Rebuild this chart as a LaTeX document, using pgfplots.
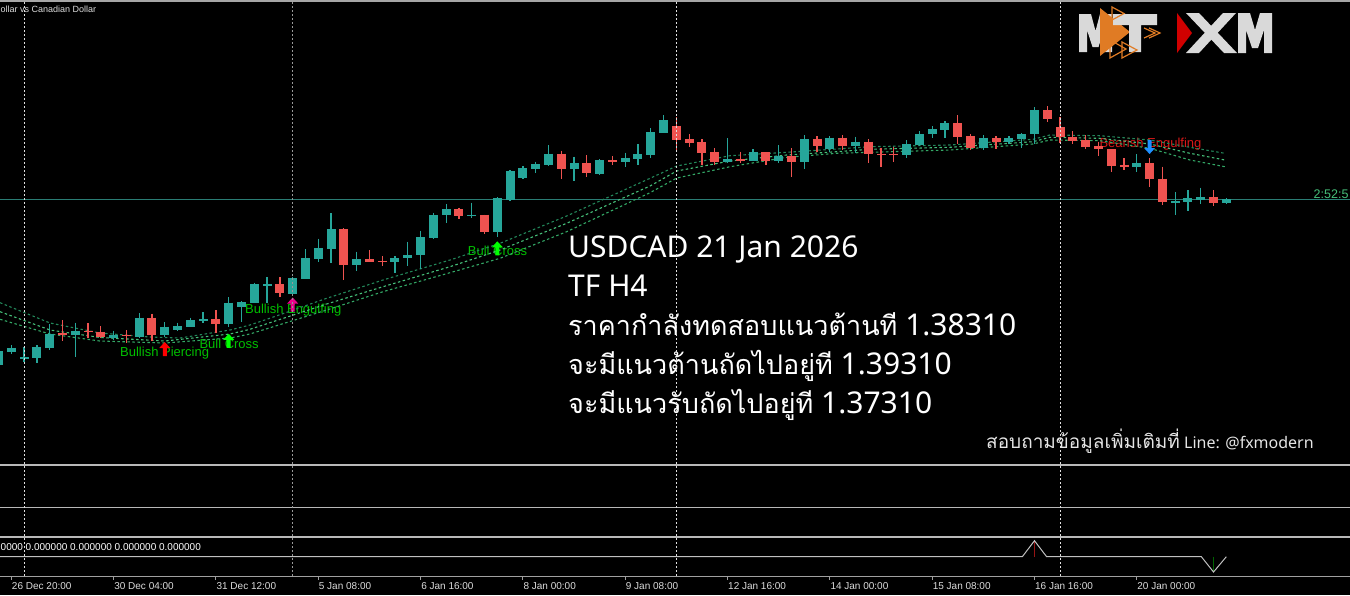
\documentclass[border=0pt]{standalone}
\usepackage{fontspec}
\setmainfont{Liberation Sans}
\newfontfamily\notofont{Noto Sans}
\newfontfamily\thaifont[Script=Thai]{Loma}
\usepackage{pgfplots}
\usepackage{pgfplotstable}
\pgfplotsset{compat=1.18}

\definecolor{bullc}{HTML}{26A69A}
\definecolor{bearc}{HTML}{EF5350}
\definecolor{maA}{HTML}{23875A}
\definecolor{maB}{HTML}{46C07A}
\definecolor{maC}{HTML}{33A866}
\definecolor{sigg}{HTML}{00C000}
\definecolor{sigr}{HTML}{D81818}
\definecolor{logog}{HTML}{D9D9D9}
\definecolor{logoo}{HTML}{E07B24}
\definecolor{logor}{HTML}{D00000}
\definecolor{pline}{HTML}{2A7D74}
\definecolor{tlab}{HTML}{DCDCDC}
\definecolor{sepc}{HTML}{B8B8B8}
\definecolor{indc}{HTML}{C0C0C0}

\pgfdeclareplotmark{uarr}{%
  \pgfpathmoveto{\pgfpoint{0pt}{7pt}}%
  \pgfpathlineto{\pgfpoint{5.5pt}{1pt}}%
  \pgfpathlineto{\pgfpoint{2pt}{1pt}}%
  \pgfpathlineto{\pgfpoint{2pt}{-7pt}}%
  \pgfpathlineto{\pgfpoint{-2pt}{-7pt}}%
  \pgfpathlineto{\pgfpoint{-2pt}{1pt}}%
  \pgfpathlineto{\pgfpoint{-5.5pt}{1pt}}%
  \pgfpathclose\pgfusepathqfill}
\pgfdeclareplotmark{darr}{%
  \pgfpathmoveto{\pgfpoint{0pt}{-7pt}}%
  \pgfpathlineto{\pgfpoint{5.5pt}{-1pt}}%
  \pgfpathlineto{\pgfpoint{2pt}{-1pt}}%
  \pgfpathlineto{\pgfpoint{2pt}{7pt}}%
  \pgfpathlineto{\pgfpoint{-2pt}{7pt}}%
  \pgfpathlineto{\pgfpoint{-2pt}{-1pt}}%
  \pgfpathlineto{\pgfpoint{-5.5pt}{-1pt}}%
  \pgfpathclose\pgfusepathqfill}

% candle data: index, body top, body bottom, wick top, wick bottom (screen price scale)
\pgfplotstableread{
i bt bb wt wb
-1 351 365 348 368
0 347.7 352.3 345 354
1 357.2 358.6 347 362
2 346.7 357.7 345 362.7
3 334 347.7 324 350
5 330.7 335 322.7 356.7
8 335 338.3 330.7 340
10 317.7 336.7 313.3 338.3
12 326.7 335.3 322.3 336.7
13 326 330 322.7 330.7
14 320 326.7 317.7 326.7
15 319.3 320.7 312 323.3
17 302.7 324 297.3 326.7
18 302.3 307.3 301 321.7
19 284.3 302.7 282.7 303
20 284.3 285.5 277.3 303.3
22 278.3 293.7 277 295
23 258.3 278.7 249.3 279.3
24 248.3 258.7 238.7 261.7
25 229.3 248.7 213.3 263.3
27 259 265 251.7 270.7
30 258.3 261.7 256 273.3
31 255 258.3 241.7 266
32 237 255.3 230.7 268.7
33 215.3 237.7 212.7 239.3
34 209.3 215.3 204 223.3
36 214.6 216 202.7 218.3
38 198.3 232 197.3 237.3
39 171.3 200 170 200.5
40 168.3 177.7 166 178.7
41 164 169 161.7 173.3
42 153.7 165 145 166
44 163 168.7 156.7 180.7
46 160 174 159.3 175.3
48 157.7 162.3 152.7 167.3
49 154.3 158.7 144 165
50 132 155 128.3 158.3
51 120 132.7 115 133.3
56 159 162.3 138.3 163.3
58 152 160.7 149.3 161
60 155.7 160.7 145 163.3
62 139 161.7 135 169
64 137.7 149.3 136 151.7
66 141.7 146 136.7 152.7
70 144 155.3 140 158.3
71 134 145 131 145.7
72 129 134.3 126 137.7
73 123.3 129.7 121 138.3
76 137.7 147.7 135 150
78 138.3 142.3 136 144.3
79 134 139.3 133.3 148.3
80 110 134.3 107.3 144.3
88 163.3 167.3 154 171.7
91 201 202.7 192.3 215
92 198.3 201.7 190 210.7
93 197.3 200 187.7 204.3
95 199.3 203.3 198 204
}\bull
\pgfplotstableread{
i bt bb wt wb
4 333.4 334.6 320 341
6 330.6 331.8 323 338
7 331.7 336.7 326 337.5
9 335 336.3 330 343.3
11 317.7 335 313.7 341
16 319 324 310 333.3
21 284.3 292.7 277.3 297.3
26 229.3 265 228.3 280
28 259 261.7 250 262.3
29 260.6 261.8 256 266
35 209 215.7 207.7 218.7
37 214.7 232 214.7 234
43 153.7 168.7 150.7 178.7
45 163.3 172.7 155 176.7
47 160 162.3 156 165
52 125.7 139.7 117.3 150
53 139.3 143.3 134.3 146.7
54 142.3 152.7 139.3 165
55 152 161.7 148 165
57 159.3 160.7 151.7 163.3
59 152.3 160.7 152.3 165
61 156 161.7 148.3 176.7
63 138.7 146 136 152.3
65 137.7 146 135 150
67 141.7 154.3 139.3 162.7
68 154 155.3 148.3 166.7
69 154 155.3 146.7 161.7
74 123.3 136.7 115 144
75 136.3 147.7 134 150
77 137.7 142.3 136 149
81 110 119 106 121.7
82 127.3 136.5 116.7 143.3
83 137.3 141 131 144
84 140 146.7 135 149
85 146 149.3 141.7 156
86 149 165.7 149 171.7
87 164.7 167 158.3 170
89 163.3 179 158.3 186.7
90 178.7 202.3 166.7 205
94 197.3 203.3 190 206
}\bear

\begin{document}
\begin{tikzpicture}
\fill[black] (0,0) rectangle (1350pt,-595pt);
\path[use as bounding box] (0,0) rectangle (1350pt,-595pt);
\begin{scope}[x=1pt,y=-1pt]
  \draw[gray!70, line width=2pt] (0,1) -- (1350,1);
  \draw[pline, line width=1pt] (0,199.3) -- (1350,199.3);
  \foreach \yy in {464.7,507.5,537} {\draw[sepc, line width=1.8pt] (0,\yy) -- (1350,\yy);}
  \draw[gray!75, line width=1pt] (0,576.2) -- (1350,576.2);
  % title text
  \node[anchor=base west, inner sep=0, text=tlab, font=\fontsize{9}{9}\selectfont] at (0.5,12.5) {ollar vs Canadian Dollar};
  \node[anchor=base west, inner sep=0, text=white, font=\fontsize{10}{10}\selectfont] at (0.5,550.5) {0000 0.000000 0.000000 0.000000 0.000000};
  % main annotation
  \node[anchor=base west, inner sep=0, text=white, font=\notofont\fontsize{30}{31}\selectfont] at (568,257.5) {USDCAD 21 Jan 2026};
  \node[anchor=base west, inner sep=0, text=white, font=\notofont\fontsize{30}{31}\selectfont] at (568,296.5) {TF H4};
  \node[anchor=base west, inner sep=0, text=white, font=\notofont\fontsize{30}{31}\selectfont] at (568,335.5) {{\thaifont\fontsize{27}{30}\selectfont ราคากำลังทดสอบแนวต้านที} 1.38310};
  \node[anchor=base west, inner sep=0, text=white, font=\notofont\fontsize{30}{31}\selectfont] at (568,374.5) {{\thaifont\fontsize{27}{30}\selectfont จะมีแนวต้านถัดไปอยู่ที} 1.39310};
  \node[anchor=base west, inner sep=0, text=white, font=\notofont\fontsize{30}{31}\selectfont] at (568,413.5) {{\thaifont\fontsize{27}{30}\selectfont จะมีแนวรับถัดไปอยู่ที} 1.37310};
  \node[anchor=base west, inner sep=0, text=white!90!black, font=\notofont\fontsize{16}{17}\selectfont] at (986,448.7) {{\thaifont\fontsize{19}{19}\selectfont สอบถามข้อมูลเพิ่มเติมที่} Line: @fxmodern};
  % signal labels
  \node[anchor=base west, inner sep=0, text=sigg, font=\fontsize{13}{13}\selectfont] at (120,356) {Bullish Piercing};
  \node[anchor=base west, inner sep=0, text=sigg, font=\fontsize{13}{13}\selectfont] at (199.3,348) {Bull Cross};
  \node[anchor=base west, inner sep=0, text=sigg, font=\fontsize{13}{13}\selectfont] at (245,313) {Bullish Engulfing};
  \node[anchor=base west, inner sep=0, text=sigg, font=\fontsize{13}{13}\selectfont] at (467.7,255.5) {Bull Cross};
  \node[anchor=base west, inner sep=0, text=sigr, font=\fontsize{13}{13}\selectfont] at (1099.3,147.7) {Bearish Engulfing};
  \node[anchor=base west, inner sep=0, text=maB, font=\fontsize{12.5}{13}\selectfont] at (1313.5,198) {2:52:5};
\end{scope}
\begin{axis}[at={(0,0)}, anchor=north west, width=1350pt, height=595pt, scale only axis,
  xmin=-0.8835, xmax=104.67, ymin=0, ymax=595, y dir=reverse, hide axis]
  % moving average envelope
  \addplot[maA, line width=1.1pt, dash pattern=on 2.5pt off 2.5pt] coordinates {(-0.88,302.7) (3.03,323) (6.93,333) (10.84,337) (13.19,338) (17.1,330) (18.66,325) (19.97,319.3) (24.66,298.3) (29.06,280) (34.3,260) (38.21,243.3) (43.42,216) (49.94,178.3) (52.03,166) (56.2,155.7) (60.62,152.3) (64.53,149) (67.14,146.7) (73.39,145) (79.88,139.3) (81.21,135) (85.12,135.7) (89.03,140) (92.16,147.3) (94.89,153.3)};
  \addplot[maB, line width=1.1pt, dash pattern=on 2.5pt off 2.5pt] coordinates {(-0.88,311.7) (3.03,330) (6.93,337.5) (12.02,341) (17.1,334) (18.66,329.3) (24.66,304) (29.06,286.7) (34.3,266.7) (38.21,250) (43.42,223.3) (49.94,186) (52.03,171) (56.2,161) (60.62,155) (64.53,151.7) (67.14,149.3) (73.39,147.3) (79.88,141.7) (81.21,137.3) (85.12,138.3) (89.03,144) (92.16,153.3) (94.89,160)};
  \addplot[maC, line width=1.1pt, dash pattern=on 2.5pt off 2.5pt] coordinates {(-0.88,319.3) (3.03,334) (6.93,341) (12.02,343) (17.1,338) (18.66,334) (24.66,310) (29.06,291.7) (34.3,272.7) (38.21,258.3) (43.42,231.7) (49.94,192.7) (52.03,178) (56.2,166.7) (60.62,157.3) (64.53,153.3) (67.14,152.3) (73.39,150) (79.88,144) (81.21,140) (85.12,140.7) (89.03,148.3) (92.16,160) (94.89,166.7)};
  % wicks
  \addplot[draw=none, mark=none, error bars/.cd, y dir=plus, y explicit, error mark=none,
    error bar style={draw=bullc, line width=1.3pt}]
    table[x=i, y=wt, y error plus expr=\thisrow{wb}-\thisrow{wt}, y error minus expr=0] {\bull};
  \addplot[draw=none, mark=none, error bars/.cd, y dir=plus, y explicit, error mark=none,
    error bar style={draw=bearc, line width=1.3pt}]
    table[x=i, y=wt, y error plus expr=\thisrow{wb}-\thisrow{wt}, y error minus expr=0] {\bear};
  % bodies
  \addplot[draw=none, mark=none, error bars/.cd, y dir=plus, y explicit, error mark=none,
    error bar style={draw=bullc, line width=9pt}]
    table[x=i, y=bt, y error plus expr=\thisrow{bb}-\thisrow{bt}, y error minus expr=0] {\bull};
  \addplot[draw=none, mark=none, error bars/.cd, y dir=plus, y explicit, error mark=none,
    error bar style={draw=bearc, line width=9pt}]
    table[x=i, y=bt, y error plus expr=\thisrow{bb}-\thisrow{bt}, y error minus expr=0] {\bear};
  % signal arrows
  \addplot[only marks, mark=uarr, color=red] coordinates {(12,349)};
  \addplot[only marks, mark=uarr, color=green] coordinates {(17,340.8) (38,248.3)};
  \addplot[only marks, mark=uarr, color=magenta] coordinates {(22,304.5)};
  \addplot[only marks, mark=darr, color={rgb,255:red,30;green,144;blue,255}] coordinates {(89,147)};
  % lower indicator window
  \addplot[color={rgb,255:red,150;green,20;blue,20}, line width=1.2pt] coordinates {(80,556.7) (80,541.5)};
  \addplot[color={rgb,255:red,0;green,100;blue,0}, line width=1.2pt] coordinates {(94,556.7) (94,571.5)};
  \addplot[indc, line width=1pt] coordinates {(-1,556.7) (79.05,556.7) (80,540.7) (80.95,556.7) (93.05,556.7) (94,572) (95,556.7)};
\end{axis}
\begin{scope}[x=1pt,y=-1pt]
  % period separators
  \foreach \xx in {24.3,676.7,1060} {\draw[white!88!black, line width=1pt, dash pattern=on 2pt off 2pt] (\xx,2) -- (\xx,576);}
  \draw[gray!80, line width=1pt, dash pattern=on 2pt off 2pt] (292.7,2) -- (292.7,576);
  % time axis
  \foreach \xx/\lab in {11.3/26 Dec 20:00, 113.6/30 Dec 04:00, 215.9/31 Dec 12:00, 318.2/5 Jan 08:00, 420.6/6 Jan 16:00, 522.9/8 Jan 00:00, 625.2/9 Jan 08:00, 727.5/12 Jan 16:00, 829.8/14 Jan 00:00, 932.1/15 Jan 08:00, 1034.4/16 Jan 16:00, 1136.7/20 Jan 00:00} {
    \draw[gray!75, line width=1pt] (\xx,576) -- (\xx,579.5);
    \node[anchor=base west, inner sep=0, text=tlab, font=\fontsize{10}{10}\selectfont] at (\xx+0.5,589.5) {\lab};
  }
  % logos
  \fill[logog] (1079,52) -- (1079,14) -- (1091,14) -- (1095.5,31) -- (1100,14) -- (1112,14) -- (1112,52) -- (1104,52) -- (1104,30) -- (1098.5,47) -- (1092.5,47) -- (1087,30) -- (1087,52) -- cycle;
  \fill[logoo] (1100,8) -- (1100,56) -- (1130,32) -- cycle;
  \fill[logog] (1113,14) -- (1157,14) -- (1157,25) -- (1141,25) -- (1141,52) -- (1129,52) -- (1129,25) -- (1113,25) -- cycle;
  \draw[logoo, line width=1.2pt] (1110,40) -- (1110,58) -- (1126,49) -- cycle;
  \draw[logoo, line width=1.2pt] (1122,42) -- (1122,58) -- (1137,50) -- cycle;
  \draw[logoo, line width=1.2pt] (1112,7) -- (1112,20) -- (1124,13.5) -- cycle;
  \draw[logoo, line width=1.2pt] (1144,28) -- (1155,33) -- (1144,38);
  \draw[logoo, line width=1.2pt] (1149,28) -- (1160,33) -- (1149,38);
  \fill[logog] (1186,13) -- (1199,13) -- (1237,53) -- (1224,53) -- cycle;
  \fill[logog] (1223,13) -- (1236,13) -- (1199,53) -- (1186,53) -- cycle;
  \fill[logor] (1177,13) -- (1177,53) -- (1192,33) -- cycle;
  \fill[logog] (1238,53) -- (1238,13) -- (1250,13) -- (1255,30) -- (1260,13) -- (1272,13) -- (1272,53) -- (1264,53) -- (1264,30) -- (1258,48) -- (1252,48) -- (1246,30) -- (1246,53) -- cycle;
\end{scope}
\end{tikzpicture}
\end{document}
